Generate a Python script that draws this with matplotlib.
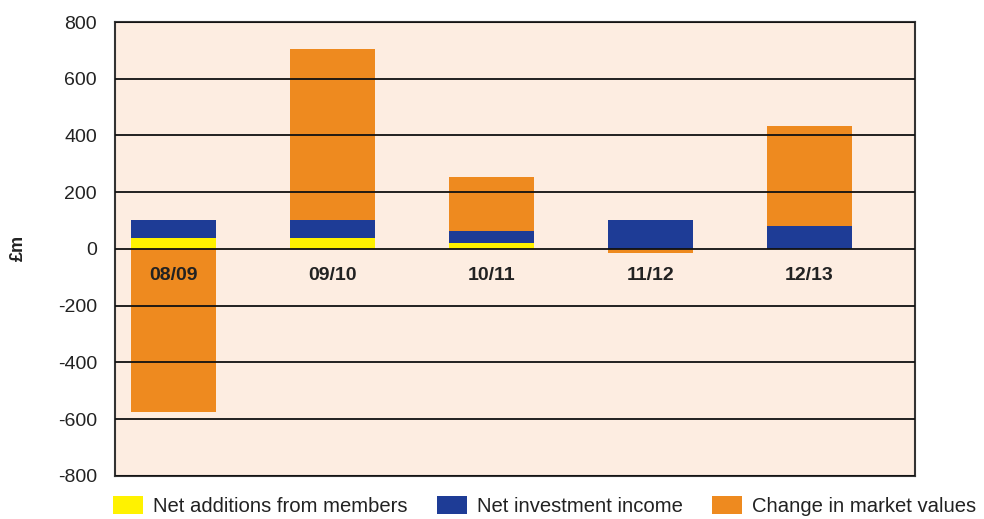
import numpy as np
import matplotlib
matplotlib.use("Agg")
import matplotlib.pyplot as plt
from matplotlib.patches import Patch

plt.rcParams['font.family'] = ['Liberation Sans', 'DejaVu Sans']
plt.rcParams['axes.unicode_minus'] = False

# data (£m)
years = ["08/09", "09/10", "10/11", "11/12", "12/13"]
net_additions = [39, 40, 20, 0, 0]
net_investment = [63, 62, 42, 102, 81]
market_change = [-576, 603, 191, -15, 352]

series = [
    ("Net additions from members", net_additions, "#FFF200"),
    ("Net investment income", net_investment, "#1E3C96"),
    ("Change in market values", market_change, "#EE8A1F"),
]

fig = plt.figure(figsize=(9.84, 5.19), dpi=100)
ax = fig.add_axes([0.1169, 0.0834, 0.813, 0.8742])
ax.set_facecolor("#FDEDE1")

x = np.arange(len(years))
pos_base = np.zeros(len(years))
neg_base = np.zeros(len(years))
handles = []
for label, vals, col in series:
    vals = np.array(vals, dtype=float)
    bottoms = np.where(vals >= 0, pos_base, neg_base)
    ax.bar(x, vals, width=0.535, bottom=bottoms, color=col, zorder=2)
    pos_base += np.where(vals >= 0, vals, 0)
    neg_base += np.where(vals < 0, vals, 0)
    handles.append(Patch(facecolor=col, label=label))

ax.set_ylim(-800, 800)
ax.set_xlim(-0.368, 4.664)
ax.set_yticks(np.arange(-800, 801, 200))
ax.yaxis.grid(True, color="#111111", linewidth=1.3, zorder=3)
ax.set_axisbelow(False)
ax.tick_params(axis="y", length=0, pad=13, labelsize=14, labelcolor="#222222")
ax.set_xticks([])
for s in ax.spines.values():
    s.set_color("#333333")
    s.set_linewidth(1.5)

# category labels sit inside the plot just below zero
for xi, yr in zip(x, years):
    ax.text(xi, -95, yr, ha="center", va="center", fontsize=14,
            fontweight="bold", color="#222222", zorder=4)

fig.text(18 / 984, 0.522, "£m", rotation=90, ha="center", va="center",
         fontsize=13, fontweight="bold", color="#222222")

fig.legend(handles=handles, loc="center left", bbox_to_anchor=(113 / 984, 13 / 519),
           ncol=3, frameon=False, fontsize=14.6, handlelength=1.48, handleheight=1.0,
           handletextpad=0.49, columnspacing=1.45, borderpad=0, borderaxespad=0,
           labelcolor="#222222")

fig.savefig("out.png", dpi=100)
